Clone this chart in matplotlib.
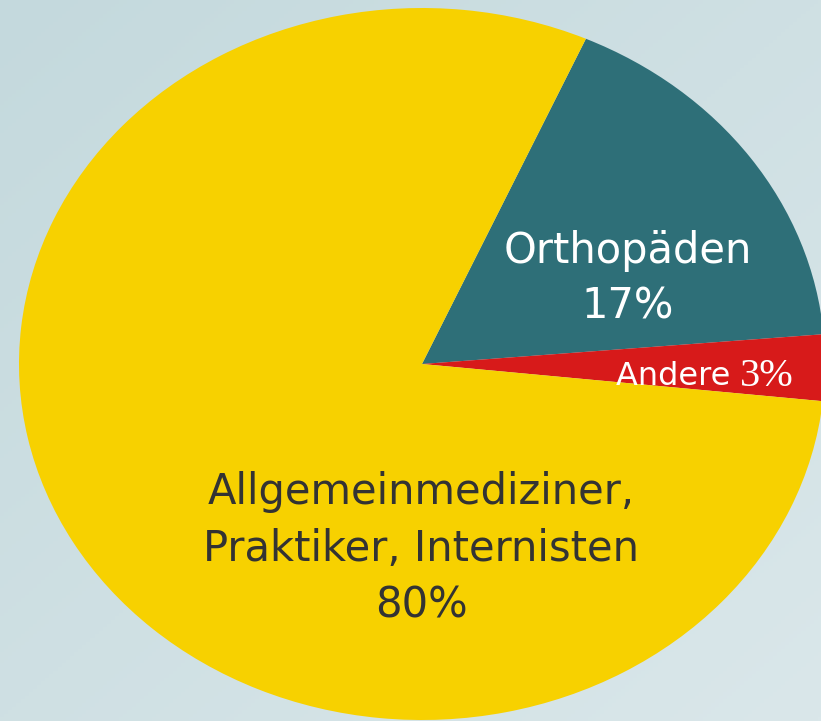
import matplotlib.pyplot as plt
import numpy as np

labels = ["Orthopäden", "Andere", "Allgemeinmediziner,\nPraktiker, Internisten"]
shares = [17, 3, 80]
colors = ["#2E6F78", "#D71A1A", "#F7D100"]

W, H = 821, 721
# pie centre and radii in pixels (the pie is drawn as an ellipse)
cx, cy, rx, ry = 422, 364, 403, 356


def px(x, y):
    return (x - cx) / rx, (cy - y) / ry


fig = plt.figure(figsize=(W / 100, H / 100), dpi=100)

# background gradient
bg = fig.add_axes([0, 0, 1, 1])
gx, gy = np.meshgrid(np.linspace(0, 1, 200), np.linspace(0, 1, 200))
t = (gx * 0.5 + gy * 0.5)
c0 = np.array([0xC4, 0xD9, 0xDD]) / 255
c1 = np.array([0xDA, 0xE7, 0xEA]) / 255
img = c0[None, None, :] * (1 - t[..., None]) + c1[None, None, :] * t[..., None]
bg.imshow(img, extent=[0, 1, 0, 1], aspect="auto")
bg.axis("off")

ax = fig.add_axes([0, 0, 1, 1])
ax.patch.set_alpha(0)
ax.pie(shares, colors=colors, startangle=66, counterclock=False,
       wedgeprops=dict(linewidth=0))
ax.set_aspect("auto")
ax.set_xlim(-cx / rx, (W - cx) / rx)
ax.set_ylim((cy - H) / ry, cy / ry)
ax.axis("off")

font = "DejaVu Sans"
x, y = px(628, 279)
ax.text(x, y, f"{labels[0]}\n{shares[0]}%", ha="center", va="center",
        color="white", fontsize=30, family=font, linespacing=1.42)

x, y = px(740, 376)
ax.text(x, y, labels[1] + " ", ha="right", va="center", color="white",
        fontsize=23, family=font)
ax.text(x, y, f"{shares[1]}%", ha="left", va="center", color="white",
        fontsize=29, family="Liberation Serif")

x, y = px(421, 549)
ax.text(x, y, f"{labels[2]}\n{shares[2]}%", ha="center", va="center",
        color="#333333", fontsize=30, family=font, linespacing=1.45)

fig.savefig("out.png", dpi=100)
